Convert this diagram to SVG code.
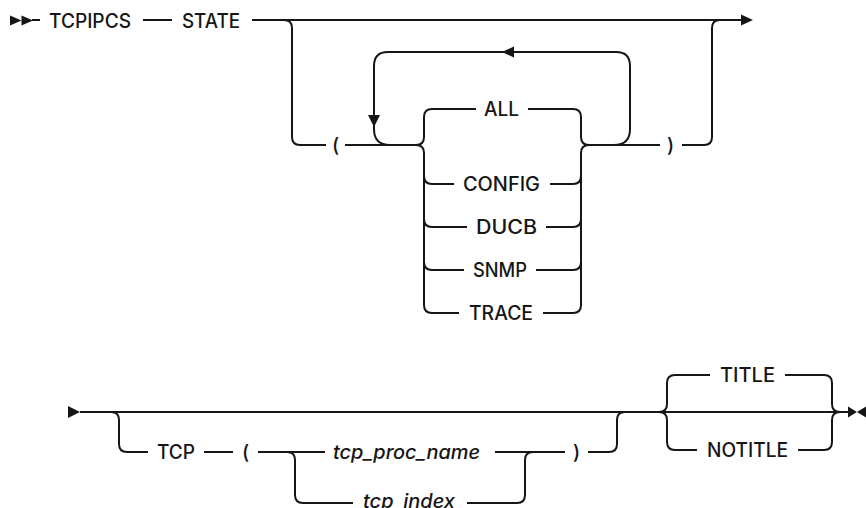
<svg xmlns="http://www.w3.org/2000/svg" width="866" height="508" viewBox="0 0 866 508">
<style>
.c{fill:none;stroke:#161616;stroke-width:2}
.a{fill:#161616;stroke:none}
.t{font-family:Inter,"Liberation Sans",Arial,sans-serif;font-size:19.5px;font-weight:500;fill:#161616}
.i{font-style:italic}
</style>
<rect width="866" height="508" fill="#fff"/>
<g id="connectors">
<path class="c" d="M32,20 L40,20 M143,20 L172,20 M252,20 L742,20"/>
<path class="c" d="M284,20 Q292,20 292,28 L292,137 Q292,145 300,145 L326,145 M345,145 L416,145"/>
<path class="c" d="M416,145 Q424,145 424,137 L424,117 Q424,109 432,109 L476,109 M528,109 L573,109 Q581,109 581,117 L581,137 Q581,145 589,145"/>
<path class="c" d="M416,145 Q424,145 424,153 L424,305 Q424,313 432,313 L459,313 M543,313 L573,313 Q581,313 581,305 L581,153 Q581,145 589,145"/>
<path class="c" d="M424,176 Q424,184 432,184 L454,184 M550,184 L573,184 Q581,184 581,176"/>
<path class="c" d="M424,219 Q424,227 432,227 L467,227 M546,227 L573,227 Q581,227 581,219"/>
<path class="c" d="M424,262 Q424,270 432,270 L464,270 M536,270 L573,270 Q581,270 581,262"/>
<path class="c" d="M589,145 L660,145 M682,145 L704,145 Q712,145 712,137 L712,28 Q712,20 720,20"/>
<path class="c" d="M614,145 Q630,145 630,129 L630,66 Q630,52 616,52 L388,52 Q374,52 374,66 L374,129 Q374,145 390,145"/>
<path class="a" d="M10,15.5 L21.5,20.5 L10,25.5 Z M21.5,15.5 L33,20.5 L21.5,25.5 Z M741,14.5 L753,20 L741,25.5 Z M502,52 L514,46.5 L514,57.5 Z M374,127 L368,115 L380,115 Z"/>
<path class="a" d="M68,406 L80,412 L68,418 Z M848,406.5 L857,412 L848,417.5 Z M866,406.5 L857,412 L866,417.5 Z"/>
<path class="c" d="M80,412 L849,412"/>
<path class="c" d="M111,412 Q119,412 119,420 L119,444 Q119,452 127,452 L148,452 M204,452 L233,452 M258,452 L325,452 M495,452 L565,452 M588,452 L609,452 Q617,452 617,444 L617,420 Q617,412 625,412"/>
<path class="c" d="M287,452 Q295,452 295,460 L295,495 Q295,503 303,503 L353,503 M467,503 L517,503 Q525,503 525,495 L525,460 Q525,452 533,452"/>
<path class="c" d="M659,412 Q667,412 667,404 L667,383 Q667,375 675,375 L710,375 M785,375 L824,375 Q832,375 832,383 L832,404 Q832,412 840,412"/>
<path class="c" d="M659,412 Q667,412 667,420 L667,442 Q667,450 675,450 L697,450 M798,450 L824,450 Q832,450 832,442 L832,420 Q832,412 840,412"/>
</g>
<g id="tcpipcs"><text class="t" x="49" y="27.5" textLength="82" lengthAdjust="spacingAndGlyphs">TCPIPCS</text></g>
<g id="state"><text class="t" x="182" y="27.5" textLength="58" lengthAdjust="spacingAndGlyphs">STATE</text></g>
<g id="lparen1"><text class="t" x="332" y="152">(</text></g>
<g id="all"><text class="t" x="484" y="116" textLength="35" lengthAdjust="spacingAndGlyphs">ALL</text></g>
<g id="config"><text class="t" x="463" y="191" textLength="77" lengthAdjust="spacingAndGlyphs">CONFIG</text></g>
<g id="ducb"><text class="t" x="476" y="234" textLength="61" lengthAdjust="spacingAndGlyphs">DUCB</text></g>
<g id="snmp"><text class="t" x="473" y="277" textLength="54" lengthAdjust="spacingAndGlyphs">SNMP</text></g>
<g id="trace"><text class="t" x="469" y="320" textLength="64" lengthAdjust="spacingAndGlyphs">TRACE</text></g>
<g id="rparen1"><text class="t" x="667" y="152">)</text></g>
<g id="tcp"><text class="t" x="157" y="459" textLength="38" lengthAdjust="spacingAndGlyphs">TCP</text></g>
<g id="lparen2"><text class="t" x="242" y="459">(</text></g>
<g id="tcp_proc_name"><text class="t i" x="333" y="459" textLength="147" lengthAdjust="spacingAndGlyphs">tcp_proc_name</text></g>
<g id="tcp_index"><text class="t i" x="363" y="508" textLength="92" lengthAdjust="spacingAndGlyphs">tcp_index</text></g>
<g id="rparen2"><text class="t" x="573" y="459">)</text></g>
<g id="title"><text class="t" x="720" y="382" textLength="55" lengthAdjust="spacingAndGlyphs">TITLE</text></g>
<g id="notitle"><text class="t" x="707" y="457" textLength="81" lengthAdjust="spacingAndGlyphs">NOTITLE</text></g>
</svg>
